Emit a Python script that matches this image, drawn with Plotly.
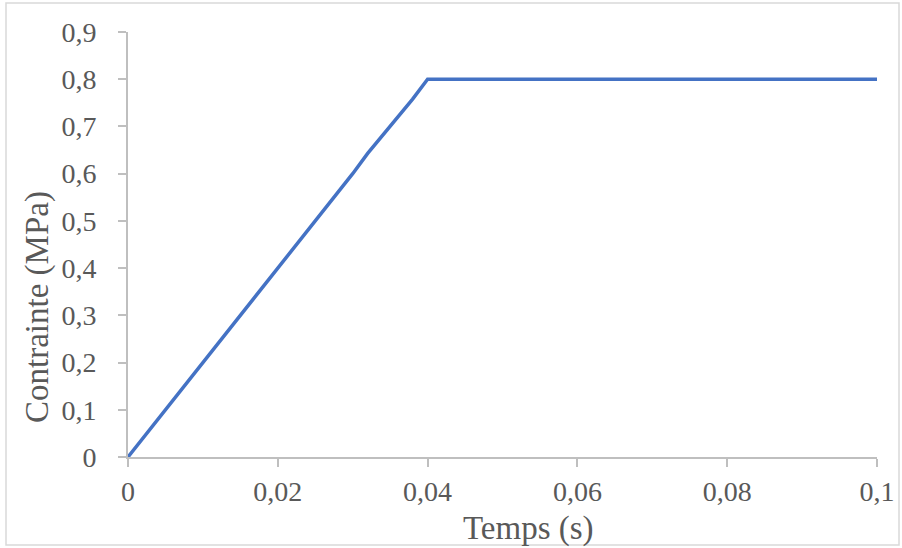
import plotly.graph_objects as go

# Data
temps = [0, 0.005, 0.01, 0.015, 0.02, 0.025, 0.03, 0.032, 0.035, 0.038, 0.04, 0.1]
contrainte = [0, 0.1, 0.2, 0.3, 0.4, 0.5, 0.6, 0.643, 0.70, 0.758, 0.80, 0.80]

x_ticks = [0, 0.02, 0.04, 0.06, 0.08, 0.1]
x_labels = ["0", "0,02", "0,04", "0,06", "0,08", "0,1"]
y_ticks = [0, 0.1, 0.2, 0.3, 0.4, 0.5, 0.6, 0.7, 0.8, 0.9]
y_labels = ["0", "0,1", "0,2", "0,3", "0,4", "0,5", "0,6", "0,7", "0,8", "0,9"]

FONT = "Liberation Serif"
TXT = "#595959"
AX = "#bfbfbf"

fig = go.Figure()
fig.add_trace(go.Scatter(x=temps, y=contrainte, mode="lines",
                         line=dict(color="#4472C4", width=3.5),
                         showlegend=False, hoverinfo="skip"))

fig.update_layout(
    width=902, height=548,
    margin=dict(l=128, r=25, t=32, b=91, autoexpand=False),
    paper_bgcolor="white", plot_bgcolor="white",
    font=dict(family=FONT, color=TXT, size=28),
    xaxis=dict(range=[0, 0.1], tickvals=x_ticks, ticktext=x_labels,
               showgrid=False, zeroline=False, showline=True, automargin=False,
               linecolor=AX, linewidth=2, ticks="outside", ticklen=8,
               tickcolor=AX, tickwidth=2, ticklabelstandoff=0,
               tickfont=dict(family=FONT, size=28, color=TXT)),
    yaxis=dict(range=[0, 0.9], tickvals=y_ticks, ticktext=y_labels,
               showgrid=False, zeroline=False, showline=True, automargin=False,
               linecolor=AX, linewidth=2, ticks="outside", ticklen=8,
               tickcolor=AX, tickwidth=2, ticklabelstandoff=16,
               tickfont=dict(family=FONT, size=28, color=TXT)),
    annotations=[
        dict(text="Temps (s)", xref="paper", yref="paper",
             x=(528 - 128) / 749, y=(457 - 528) / 425,
             xanchor="center", yanchor="middle", showarrow=False,
             font=dict(family=FONT, size=33, color=TXT)),
        dict(text="Contrainte (MPa)", xref="paper", yref="paper",
             x=(38 - 128) / 749, y=(457 - 307) / 425, textangle=-90,
             xanchor="center", yanchor="middle", showarrow=False,
             font=dict(family=FONT, size=33, color=TXT)),
    ],
    shapes=[
        dict(type="rect", xref="paper", yref="paper",
             x0=(6 - 128) / 749, x1=(899 - 128) / 749,
             y0=(457 - 545) / 425, y1=(457 - 3) / 425,
             line=dict(color="#d9d9d9", width=1.5), layer="below"),
    ],
)

fig.write_html("out.html", config={"displayModeBar": False},
               post_script="document.body.style.margin='0px';document.body.style.overflow='hidden';")
